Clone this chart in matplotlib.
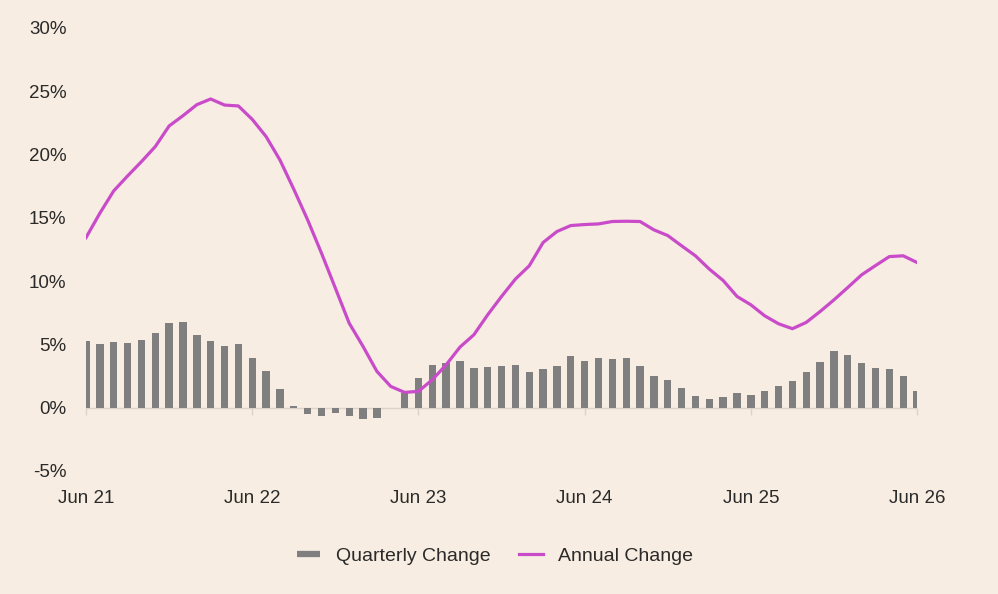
import numpy as np
import matplotlib
matplotlib.use("Agg")
import matplotlib.pyplot as plt
from matplotlib.lines import Line2D

# ---------------- data ----------------
# monthly, Jun 21 .. Jun 26 (61 months)
quarterly_change = [5.26, 5.05, 5.18, 5.13, 5.34, 5.92, 6.71, 6.74, 5.76, 5.29,
                    4.84, 5.00, 3.92, 2.87, 1.47, 0.16, -0.50, -0.66, -0.39, -0.66,
                    -0.87, -0.84, -0.05, 1.18, 2.37, 3.39, 3.50, 3.66, 3.10, 3.18,
                    3.32, 3.34, 2.79, 3.03, 3.29, 4.10, 3.66, 3.95, 3.82, 3.95,
                    3.32, 2.53, 2.21, 1.53, 0.95, 0.66, 0.82, 1.13, 1.03, 1.34,
                    1.71, 2.10, 2.84, 3.61, 4.45, 4.13, 3.55, 3.16, 3.08, 2.53,
                    1.29]
annual_change = [13.44, 15.37, 17.13, 18.31, 19.44, 20.63, 22.26, 23.07, 23.94, 24.39,
                 23.91, 23.84, 22.78, 21.42, 19.57, 17.26, 14.84, 12.21, 9.45, 6.68,
                 4.84, 2.87, 1.68, 1.21, 1.29, 2.21, 3.39, 4.79, 5.76, 7.34,
                 8.79, 10.16, 11.21, 13.05, 13.92, 14.39, 14.47, 14.52, 14.71, 14.73,
                 14.71, 14.05, 13.60, 12.79, 12.00, 10.95, 10.05, 8.79, 8.13, 7.26,
                 6.63, 6.24, 6.74, 7.60, 8.52, 9.50, 10.50, 11.23, 11.94, 12.00,
                 11.47]
tick_labels = ["Jun 21", "Jun 22", "Jun 23", "Jun 24", "Jun 25", "Jun 26"]
y_ticks = [-5, 0, 5, 10, 15, 20, 25, 30]

bg = "#f7ede2"
bar_col = "#7f7f7f"
line_col = "#c94bc9"
text_col = "#2a2a2a"
zero_col = "#ddd3c7"

plt.rcParams['font.family'] = ['Liberation Sans', 'DejaVu Sans']

fig = plt.figure(figsize=(9.98, 5.94), dpi=100, facecolor=bg)
ax = fig.add_axes([0.0862, 0.2071, 0.8327, 0.7458])
ax.set_facecolor(bg)

x = np.arange(len(quarterly_change))
ax.bar(x, quarterly_change, width=0.53, color=bar_col, zorder=2)
ax.plot(x, annual_change, color=line_col, lw=2.3, zorder=3, solid_joinstyle='round')

# zero line with small year ticks
ax.axhline(0, color=zero_col, lw=1, zorder=1)
year_pos = np.arange(0, len(x), 12)
ax.plot(year_pos, np.zeros(len(year_pos)), linestyle='none', marker=3,
        markersize=5, markeredgewidth=1, color=zero_col, zorder=1, clip_on=False)

ax.set_xlim(0, len(x) - 1)
ax.set_ylim(-5, 30)
ax.set_xticks(year_pos)
ax.set_xticklabels(tick_labels)
ax.set_yticks(y_ticks)
ax.set_yticklabels([f"{v}%" for v in y_ticks])
ax.tick_params(axis='both', length=0, labelsize=13.5, colors=text_col)
ax.tick_params(axis='x', pad=14)
ax.tick_params(axis='y', pad=14)
for s in ax.spines.values():
    s.set_visible(False)

handles = [Line2D([], [], color=bar_col, lw=4.5, solid_capstyle='butt'),
           Line2D([], [], color=line_col, lw=2.3)]
fig.legend(handles, ["Quarterly Change", "Annual Change"], loc='center',
           bbox_to_anchor=(0.496, 0.064), ncol=2, frameon=False,
           fontsize=14, labelcolor=text_col, handlelength=1.2,
           handletextpad=0.8, columnspacing=1.5)

fig.savefig("out.png", dpi=100, facecolor=bg)
